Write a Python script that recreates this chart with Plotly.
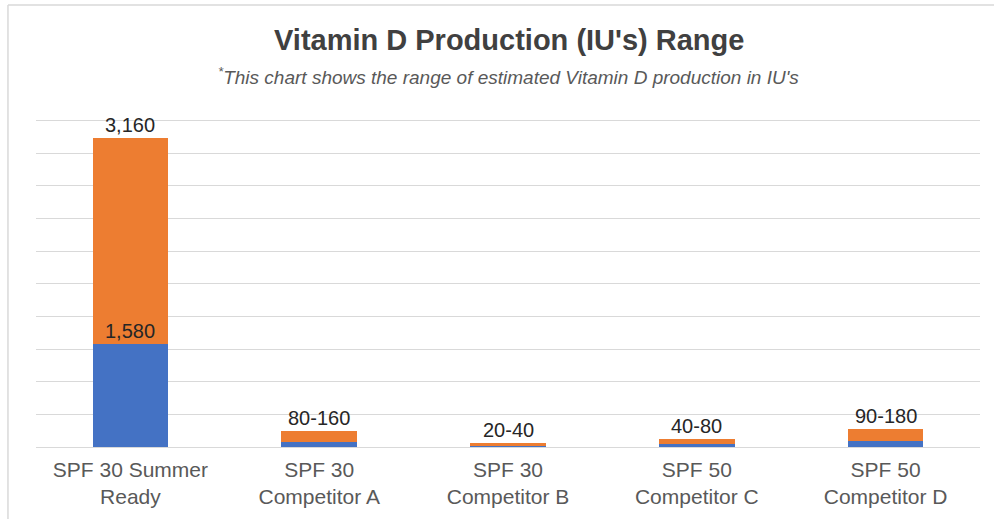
"""Vitamin D production range chart

Stacked bars: low estimate (blue) with the high estimate stacked on top (orange).
"""

# Imports
import plotly.graph_objects as go


# Data
CATEGORIES = [
    "SPF 30 Summer<br>Ready",
    "SPF 30<br>Competitor A",
    "SPF 30<br>Competitor B",
    "SPF 50<br>Competitor C",
    "SPF 50<br>Competitor D",
]
LOW_VALUES = [1580, 80, 20, 40, 90]
HIGH_VALUES = [3160, 160, 40, 80, 180]
TOP_LABELS = ["3,160", "80-160", "20-40", "40-80", "90-180"]
LOW_LABEL = "1,580"

# Styles
BLUE = "#4472C4"
ORANGE = "#ED7D31"
GRID = "#d9d9d9"
FONT = "Liberation Sans, Arial, sans-serif"

fig = go.Figure()

# Low estimate (bottom of the stack)
fig.add_trace(go.Bar(
    x=CATEGORIES, y=LOW_VALUES, marker_color=BLUE,
    marker_line_width=0, width=0.4, hoverinfo="skip",
))

# High estimate stacked on top
fig.add_trace(go.Bar(
    x=CATEGORIES, y=HIGH_VALUES, marker_color=ORANGE,
    marker_line_width=0, width=0.4, hoverinfo="skip",
))

annotations = []

# Labels above each stack
for cat, low, high, label in zip(CATEGORIES, LOW_VALUES, HIGH_VALUES, TOP_LABELS):
    annotations.append(dict(
        x=cat, y=low + high, text=label, showarrow=False,
        xref="x", yref="y", yanchor="bottom", yshift=0,
        font=dict(family=FONT, size=20, color="#262626"),
    ))

# Label for the low value of the first bar
annotations.append(dict(
    x=CATEGORIES[0], y=LOW_VALUES[0], text=LOW_LABEL, showarrow=False,
    xref="x", yref="y", yanchor="bottom", yshift=0,
    font=dict(family=FONT, size=20, color="#262626"),
))

# Title and subtitle
annotations.append(dict(
    x=0.501, y=1.222, xref="paper", yref="paper", showarrow=False,
    text="<b>Vitamin D Production (IU's) Range</b>", yanchor="middle",
    font=dict(family=FONT, size=29, color="#404040"),
))
annotations.append(dict(
    x=0.501, y=1.114, xref="paper", yref="paper", showarrow=False,
    text="<i><sup>*</sup>This chart shows the range of estimated Vitamin D production in IU's</i>",
    yanchor="middle",
    font=dict(family=FONT, size=19, color="#595959"),
))

fig.update_layout(
    barmode="stack",
    showlegend=False,
    width=994, height=519,
    margin=dict(l=36, r=14, t=114, b=72),
    paper_bgcolor="white", plot_bgcolor="white",
    bargap=0.6,
    annotations=annotations,
    shapes=[
        # image frame lines
        dict(type="line", xref="paper", yref="paper",
             x0=-0.0297, x1=1.02, y0=1.327, y1=1.327,
             line=dict(color=GRID, width=1.5)),
        dict(type="line", xref="paper", yref="paper",
             x0=-0.0297, x1=-0.0297, y0=1.327, y1=-0.23,
             line=dict(color=GRID, width=1.5)),
    ],
)

fig.update_xaxes(
    showgrid=False, showline=False, ticks="", ticklabelstandoff=8,
    tickfont=dict(family=FONT, size=21, color="#595959"),
)
fig.update_yaxes(
    range=[0, 5100], dtick=500, showgrid=True, gridcolor=GRID, gridwidth=1,
    showticklabels=False, zeroline=True, zerolinecolor=GRID, zerolinewidth=1,
)

# page has a default body margin; drop it so the figure sits at the corner
fig.write_html(
    "out.html",
    config={"displayModeBar": False},
    post_script="document.body.style.margin='0';",
)
